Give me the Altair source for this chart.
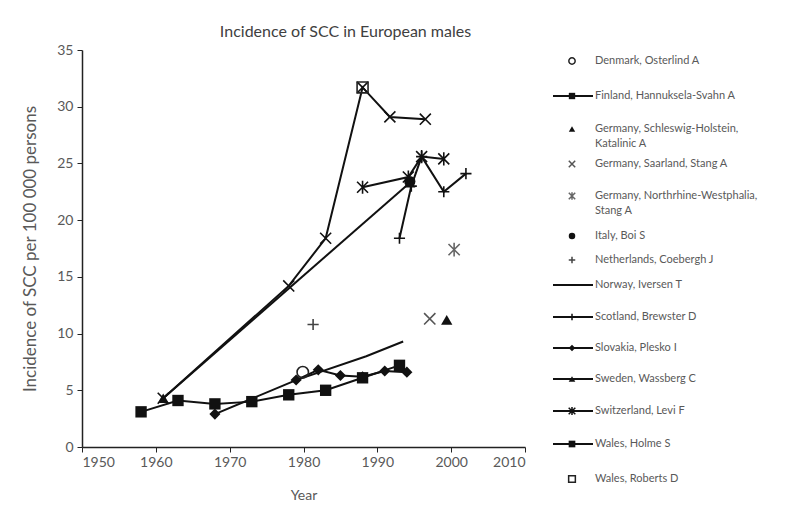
import altair as alt
import pandas as pd

# ---------------- data ----------------
denmark_year = [1979.9]
denmark_val = [6.6]
finland_year = [1958, 1963, 1968, 1973, 1978, 1983, 1988, 1993]
finland_val = [3.1, 4.1, 3.8, 4.0, 4.6, 5.0, 6.1, 7.2]
sh_year = [1999.4]
sh_val = [11.2]
saar_year = [1997.1]
saar_val = [11.3]
nrw_year = [2000.4]
nrw_val = [17.4]
italy_year = [1994.4]
italy_val = [23.4]
neth_year = [1981.3]
neth_val = [10.8]
norway_year = [1979, 1988.5, 1993.5]
norway_val = [5.9, 8.0, 9.3]
scotland_year = [1993, 1994.6, 1996, 1999, 2002]
scotland_val = [18.4, 23.0, 25.6, 22.5, 24.1]
slovakia_year = [1968, 1979, 1982, 1985, 1988, 1991, 1994]
slovakia_val = [2.9, 5.9, 6.8, 6.3, 6.2, 6.7, 6.6]
sweden_year = [1961, 1994.4]
sweden_val = [4.3, 23.3]
swiss_year = [1961, 1978, 1983, 1988, 1991.7, 1996.5]
swiss_val = [4.3, 14.2, 18.4, 31.7, 29.1, 28.9]
walesh_year = [1988, 1994.2, 1996, 1999]
walesh_val = [22.9, 23.8, 25.6, 25.4]
walesr_year = [1988]
walesr_val = [31.7]

labels = [
    "Denmark, Osterlind A",
    "Finland, Hannuksela-Svahn A",
    "Germany, Schleswig-Holstein,\nKatalinic A",
    "Germany, Saarland, Stang A",
    "Germany, Northrhine-Westphalia,\nStang A",
    "Italy, Boi S",
    "Netherlands, Coebergh J",
    "Norway, Iversen T",
    "Scotland, Brewster D",
    "Slovakia, Plesko I",
    "Sweden, Wassberg C",
    "Switzerland, Levi F",
    "Wales, Holme S",
    "Wales, Roberts D",
]
series_years = [denmark_year, finland_year, sh_year, saar_year, nrw_year, italy_year,
                neth_year, norway_year, scotland_year, slovakia_year, sweden_year,
                swiss_year, walesh_year, walesr_year]
series_vals = [denmark_val, finland_val, sh_val, saar_val, nrw_val, italy_val,
               neth_val, norway_val, scotland_val, slovakia_val, sweden_val,
               swiss_val, walesh_val, walesr_val]

# ---------------- styles ----------------
XPATH = "M-1,-1L1,1M-1,1L1,-1"
PLUS = "M-1,0L1,0M0,-1L0,1"
STAR = "M-1,-1L1,1M-1,1L1,-1M0,-1.2L0,1.2"
DASH = "M-1,0L1,0"
# marker shapes as they appear in the plot
shape_main = ["circle", "square", "triangle-up", XPATH, STAR, "circle", PLUS, DASH,
              PLUS, "diamond", "triangle-up", XPATH, STAR, "square"]
filled_main = [False, True, True, False, False, True, False, False,
               False, True, True, False, False, False]
# marker shapes as they appear in the legend column
shape_leg = ["circle", "square", "triangle-up", XPATH, STAR, "circle", PLUS, DASH,
             PLUS, "diamond", "triangle-up", STAR, "square", "square"]
filled_leg = [False, True, True, False, False, True, False, False,
              False, True, True, False, True, False]
has_line = [False, True, False, False, False, False, False, True,
            True, True, True, True, True, False]
size_main = [130, 120, 130, 95, 95, 110, 90, 0, 80, 60, 50, 100, 100, 170]
size_leg = [40, 45, 45, 40, 40, 40, 35, 30, 30, 40, 40, 45, 35, 40]
color_of = ["#222222", "#111111", "#111111", "#555555", "#666666", "#111111", "#444444",
            "#111111", "#111111", "#111111", "#111111", "#111111", "#111111", "#222222"]
names = [l.replace("\n", " ") for l in labels]

rows = []
for n, ys, vs in zip(names, series_years, series_vals):
    for i, (y, v) in enumerate(zip(ys, vs)):
        rows.append({"series": n, "year": y, "val": v, "idx": i})
df = pd.DataFrame(rows)

FONT = "Lato"
GREY = "#595959"

xenc = alt.X("year:Q", scale=alt.Scale(domain=[1950, 2010], nice=False, zero=False),
             axis=alt.Axis(values=list(range(1950, 2011, 10)), format="d", title="Year",
                           grid=False, tickSize=5, labelFontSize=14, titleFontSize=14,
                           titleFontWeight="normal", labelColor=GREY, titleColor=GREY,
                           domainColor="#222222", tickColor="#222222", domainWidth=1.5,
                           labelPadding=3, titlePadding=19))
yenc = alt.Y("val:Q", scale=alt.Scale(domain=[0, 35], nice=False),
             axis=alt.Axis(values=list(range(0, 36, 5)), title="Incidence of SCC per 100 000 persons",
                           grid=False, tickSize=5, labelFontSize=14, titleFontSize=17,
                           titleFontWeight="normal", labelColor=GREY, titleColor=GREY,
                           domainColor="#222222", tickColor="#222222", domainWidth=1.5,
                           labelPadding=4, titlePadding=17))

color_sc = alt.Scale(domain=names, range=color_of)

line_names = [n for n, h in zip(names, has_line) if h]
lines = alt.Chart(df).transform_filter(
    alt.FieldOneOfPredicate(field="series", oneOf=line_names)
).mark_line(color="#111111", strokeWidth=2).encode(
    x=xenc, y=yenc, detail="series:N", order="idx:Q")


def point_layer(filled):
    dom = [names[i] for i in range(len(names)) if filled_main[i] == filled and size_main[i] > 0]
    return alt.Chart(df).transform_filter(
        alt.FieldOneOfPredicate(field="series", oneOf=dom)
    ).mark_point(filled=filled, opacity=1, strokeWidth=1.6).encode(
        x=xenc, y=yenc,
        shape=alt.Shape("series:N", scale=alt.Scale(domain=names, range=shape_main), legend=None),
        size=alt.Size("series:N", scale=alt.Scale(domain=names, range=size_main), legend=None),
        color=alt.Color("series:N", scale=color_sc, legend=None),
    )


main = alt.layer(lines, point_layer(True), point_layer(False)).properties(
    width=443, height=397,
    title=alt.Title("Incidence of SCC in European males", fontSize=16, fontWeight="normal",
                    color="#404040", font=FONT, anchor="middle", dx=42, offset=3),
)

# ---------------- hand-built legend (right column) ----------------
legend_rows_y = [11, 46, 79, 114, 146, 186, 210, 235, 267, 298, 329, 361, 394, 429]
leg = pd.DataFrame({
    "series": names,
    "line1": [l.split("\n")[0] for l in labels],
    "line2": [l.split("\n")[1] if "\n" in l else "" for l in labels],
    "ly": legend_rows_y,
    "has_line": has_line,
})
ly = alt.Y("ly:Q", scale=alt.Scale(domain=[0, 397], reverse=True, nice=False, zero=False), axis=None)

leg_lines = alt.Chart(leg).transform_filter("datum.has_line").mark_rule(
    color="#111111", strokeWidth=2).encode(x=alt.value(12), x2=alt.value(52), y=ly)


def leg_points(filled):
    dom = [names[i] for i in range(len(names)) if filled_leg[i] == filled]
    return alt.Chart(leg).transform_filter(
        alt.FieldOneOfPredicate(field="series", oneOf=dom)
    ).mark_point(filled=filled, opacity=1, strokeWidth=1.5).encode(
        x=alt.value(31), y=ly,
        shape=alt.Shape("series:N", scale=alt.Scale(domain=names, range=shape_leg), legend=None),
        size=alt.Size("series:N", scale=alt.Scale(domain=names, range=size_leg), legend=None),
        color=alt.Color("series:N", scale=color_sc, legend=None),
    )


leg_text1 = alt.Chart(leg).mark_text(align="left", baseline="middle", fontSize=11, color=GREY,
                                     font=FONT).encode(x=alt.value(54), y=ly, text="line1:N")
leg_text2 = alt.Chart(leg).mark_text(align="left", baseline="middle", fontSize=11, color=GREY,
                                     font=FONT, dy=15).encode(x=alt.value(54), y=ly, text="line2:N")

legend = alt.layer(leg_lines, leg_points(True), leg_points(False), leg_text1, leg_text2).properties(
    width=210, height=397)

chart = alt.hconcat(main, legend, spacing=16, bounds="flush").resolve_scale(
    shape="independent", size="independent", color="independent"
).properties(
    padding={"left": 13, "top": 16, "right": 0, "bottom": 5}
).configure(font=FONT).configure_view(stroke="transparent", strokeWidth=0)

chart.save("out.html", embed_options={"renderer": "svg", "actions": False})
